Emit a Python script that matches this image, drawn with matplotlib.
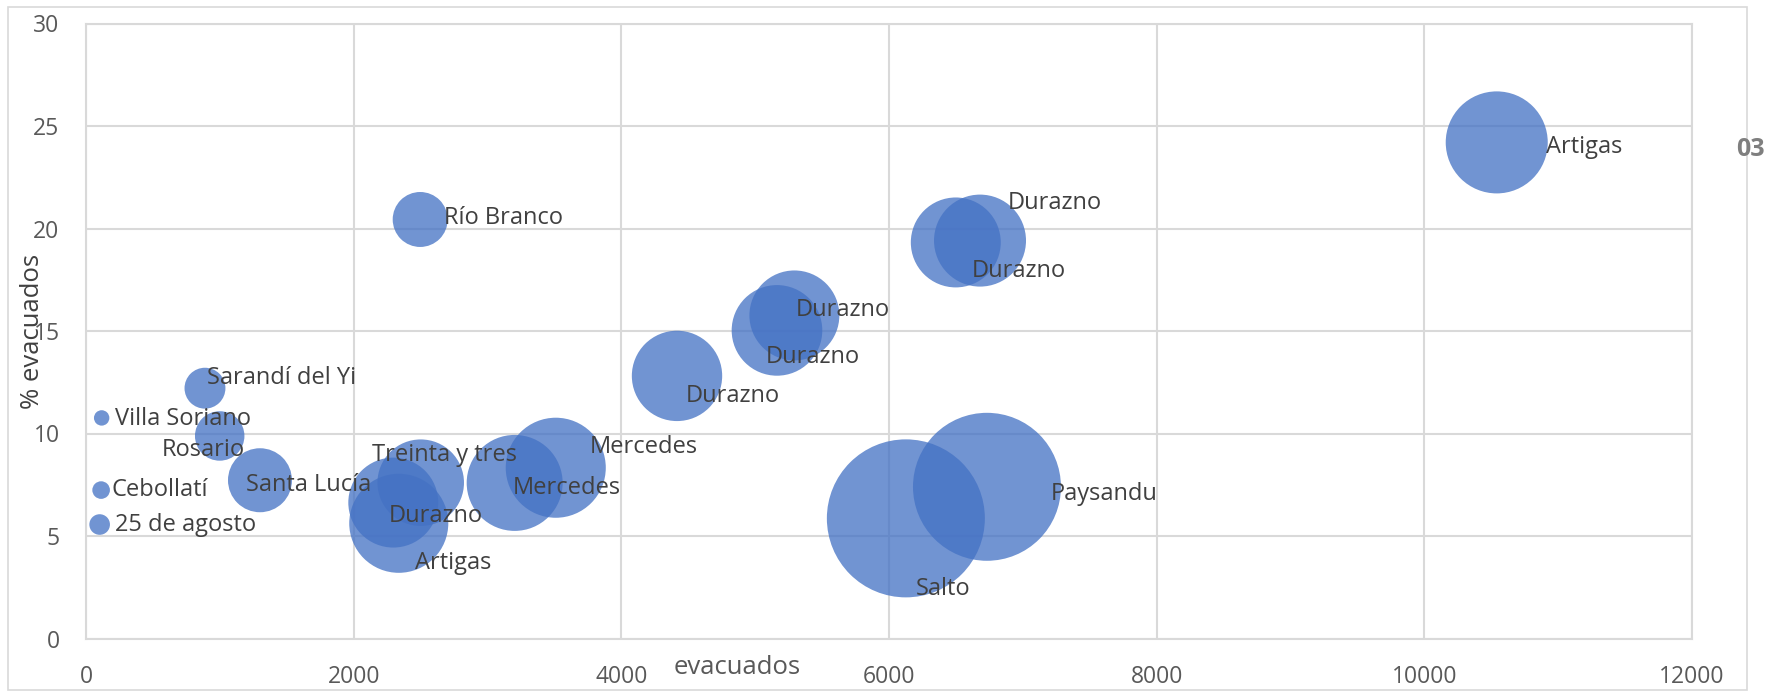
import matplotlib
matplotlib.use("Agg")
import matplotlib.pyplot as plt
from matplotlib.patches import Rectangle

# ---- data ----
places = ["Artigas", "Río Branco", "Durazno", "Durazno", "Durazno", "Durazno",
          "Durazno", "Sarandí del Yi", "Villa Soriano", "Rosario", "Santa Lucía",
          "Cebollatí", "25 de agosto", "Treinta y tres", "Durazno", "Artigas",
          "Mercedes", "Mercedes", "Salto", "Paysandu"]
evacuados = [10541, 2497, 6499, 6680, 5163, 5293, 4416, 889, 117, 999, 1300,
             113, 102, 2501, 2296, 2337, 3203, 3510, 6126, 6732]
pct_evacuados = [24.2, 20.44, 19.32, 19.41, 15.03, 15.76, 12.81, 12.21, 10.76,
                 9.88, 7.72, 7.24, 5.56, 7.6, 6.63, 5.62, 7.59, 8.33, 5.86, 7.40]
bubble_size = [41.7, 12.1, 32.4, 33.9, 32.9, 32.4, 32.7, 6.7, 0.95, 9.8, 16.4,
               1.24, 1.70, 30.0, 32.4, 39.3, 36.9, 40.1, 100.0, 87.7]
x_ticks = [0, 2000, 4000, 6000, 8000, 10000, 12000]
y_ticks = [0, 5, 10, 15, 20, 25, 30]

# label placement (offset in px from bubble centre, horizontal alignment)
label_offsets = [(49, -4.5), (24, 1.5), (16, -29), (27.5, 37.5), (-11, -27),
                 (1.5, 5), (8.7, -20), (2, 10), (13, -1), (25, -14),
                 (-14, -5), (10.5, 0), (15, -0.5), (-49, 27.6), (-5, -13.5),
                 (16, -40), (-2.4, -4.7), (34, 21), (10, -71), (64, -7.3)]
label_ha = ["left"] * len(places)
label_ha[9] = "right"

FONT = "Open Sans"
W, H = 1781, 695
fig = plt.figure(figsize=(W / 100, H / 100), dpi=100)
fig.patch.set_facecolor("white")

# outer chart border
fig.add_artist(Rectangle((8 / W, 1 - 690 / H), (1747 - 8) / W, (690 - 7) / H,
                         transform=fig.transFigure, fill=False,
                         edgecolor="#d9d9d9", linewidth=1.2))

ax = fig.add_axes([86 / W, 1 - 638.5 / H, (1692 - 86) / W, (638.5 - 23.5) / H])
ax.set_xlim(0, 12000)
ax.set_ylim(0, 30)
ax.set_xticks(x_ticks)
ax.set_yticks(y_ticks)
ax.set_xticklabels([str(v) for v in x_ticks])
ax.set_yticklabels([str(v) for v in y_ticks])
ax.grid(True, color="#d9d9d9", linewidth=1.5)
ax.set_axisbelow(True)
for sp in ax.spines.values():
    sp.set_color("#d9d9d9")
    sp.set_linewidth(1.5)
ax.tick_params(length=0, labelsize=16.5, labelcolor="#595959")
ax.tick_params(axis="x", pad=19)
ax.tick_params(axis="y", pad=19)
for lab in ax.get_xticklabels() + ax.get_yticklabels():
    lab.set_fontfamily(FONT)

max_r_pt = 2 * 79 * 0.72
smax = max(bubble_size)
s = [b / smax * max_r_pt ** 2 for b in bubble_size]
ax.scatter(evacuados, pct_evacuados, s=s, color="#4472C4", alpha=0.76,
           linewidths=0, zorder=3, clip_on=False)

for name, xv, yv, (dx, dy), ha in zip(places, evacuados, pct_evacuados,
                                      label_offsets, label_ha):
    ax.annotate(name, xy=(xv, yv), xytext=(dx * 0.72, dy * 0.72),
                textcoords="offset points", ha=ha, va="center",
                fontsize=17, color="#404040", fontfamily=FONT, zorder=4)

fig.text(737 / W, 1 - 668 / H, "evacuados", ha="center", va="center",
         fontsize=18.5, color="#595959", fontfamily=FONT)
fig.text(33 / W, 1 - 331 / H, "% evacuados", ha="center", va="center",
         rotation=90, fontsize=18.5, color="#404040", fontfamily=FONT)
fig.text(1750 / W, 1 - 149 / H, "03", ha="center", va="center",
         fontsize=18, fontweight="bold", color="#7f7f7f", fontfamily=FONT)

fig.savefig("out.png", dpi=100)
